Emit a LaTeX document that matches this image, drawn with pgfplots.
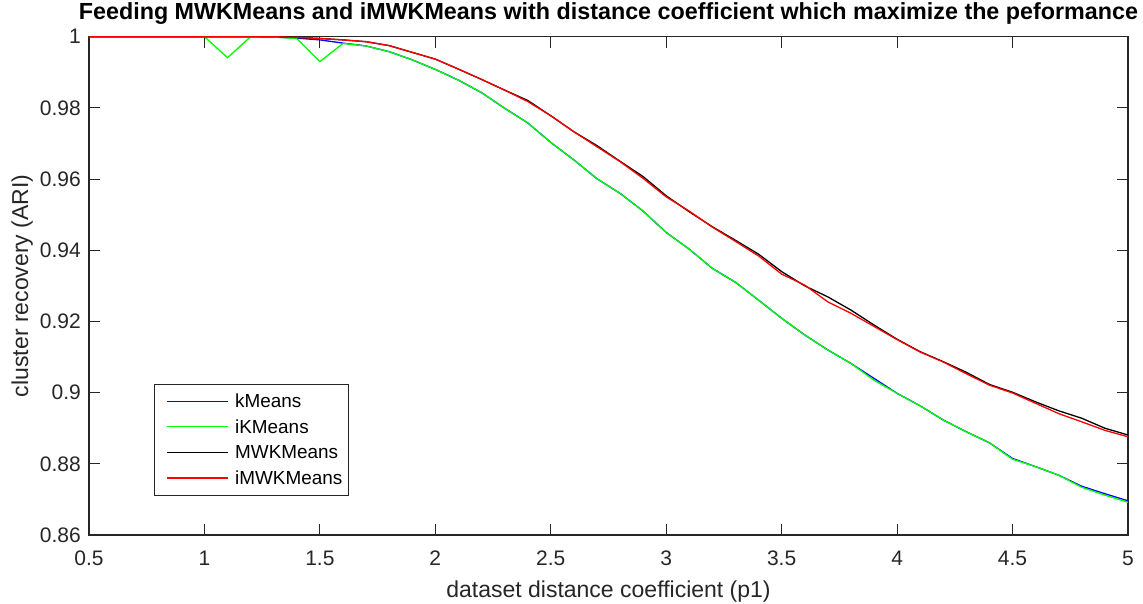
\documentclass[border=0pt]{standalone}
\usepackage{fontspec}
\setmainfont{Liberation Sans}
\usepackage{pgfplots}
\usepackage{pgfplotstable}
\pgfplotsset{compat=1.18}
\definecolor{axgray}{RGB}{38,38,38}
\definecolor{mblue}{RGB}{0,0,255}
\definecolor{mgreen}{RGB}{0,255,0}
\definecolor{mred}{RGB}{255,0,0}

\pgfplotstableread{
x   km      ikm     mwk     imwk
0.5 1.0000  1.0000  1.0000  1.0000
0.6 1.0000  1.0000  1.0000  1.0000
0.7 1.0000  1.0000  1.0000  1.0000
0.8 1.0000  1.0000  1.0000  1.0000
0.9 1.0000  1.0000  1.0000  1.0000
1.0 1.0000  1.0000  1.0000  1.0000
1.1 1.0000  0.9941  1.0000  1.0000
1.2 1.0000  1.0000  1.0000  1.0000
1.3 0.9999  0.9999  1.0000  1.0000
1.4 0.9996  0.9995  0.9998  0.9998
1.5 0.9991  0.9930  0.9995  0.9995
1.6 0.9982  0.9981  0.9991  0.9991
1.7 0.9974  0.9974  0.9986  0.9986
1.8 0.9958  0.9958  0.9975  0.9975
1.9 0.9935  0.9935  0.9956  0.9956
2.0 0.9908  0.9908  0.9937  0.9937
2.1 0.9878  0.9878  0.9909  0.9909
2.2 0.9843  0.9843  0.9880  0.9880
2.3 0.9799  0.9799  0.9850  0.9850
2.4 0.9758  0.9758  0.9821  0.9818
2.5 0.9703  0.9703  0.9778  0.9778
2.6 0.9654  0.9654  0.9733  0.9733
2.7 0.9601  0.9601  0.9694  0.9691
2.8 0.9560  0.9560  0.9650  0.9649
2.9 0.9510  0.9510  0.9607  0.9602
3.0 0.9450  0.9450  0.9553  0.9550
3.1 0.9403  0.9403  0.9508  0.9510
3.2 0.9349  0.9349  0.9466  0.9465
3.3 0.9310  0.9310  0.9428  0.9425
3.4 0.9260  0.9260  0.9389  0.9384
3.5 0.9209  0.9209  0.9340  0.9333
3.6 0.9162  0.9162  0.9300  0.9302
3.7 0.9120  0.9120  0.9269  0.9255
3.8 0.9082  0.9082  0.9232  0.9223
3.9 0.9040  0.9035  0.9190  0.9186
4.0 0.8998  0.8998  0.9150  0.9149
4.1 0.8963  0.8963  0.9115  0.9114
4.2 0.8923  0.8923  0.9087  0.9086
4.3 0.8890  0.8890  0.9057  0.9053
4.4 0.8859  0.8859  0.9023  0.9021
4.5 0.8815  0.8813  0.9001  0.8999
4.6 0.8792  0.8792  0.8974  0.8970
4.7 0.8768  0.8768  0.8949  0.8941
4.8 0.8737  0.8734  0.8928  0.8918
4.9 0.8716  0.8712  0.8900  0.8894
5.0 0.8696  0.8692  0.8881  0.8876
}\datatable

\begin{document}
\begin{tikzpicture}
\path[use as bounding box] (-89pt,-68pt) rectangle (1054pt,535pt);
\begin{axis}[
  at={(0pt,0pt)}, anchor=south west,
  scale only axis, width=1039pt, height=498.3pt,
  xmin=0.5, xmax=5, ymin=0.86, ymax=1,
  xtick={0.5,1,1.5,2,2.5,3,3.5,4,4.5,5},
  ytick={0.86,0.88,0.9,0.92,0.94,0.96,0.98,1},
  tick align=inside, xtick pos=both, ytick pos=both,
  major tick length=11pt,
  axis line style={axgray, line width=1.1pt},
  every tick/.style={axgray, line width=1.1pt},
  /pgf/number format/assume math mode=true,
  ticklabel style={font=\fontsize{21}{25}\selectfont, text=axgray},
  xticklabel style={anchor=base, yshift=-30.5pt},
  yticklabel style={anchor=east, inner sep=0pt, xshift=-8pt, /pgf/number format/fixed, /pgf/number format/precision=2},
  title={Feeding MWKMeans and iMWKMeans with distance coefficient which maximize the peformance},
  title style={at={(axis description cs:0.5,1)}, anchor=base, yshift=10.7pt, font=\fontsize{23.3}{27}\selectfont\bfseries},
  xlabel={dataset distance coefficient (p1)},
  xlabel style={at={(axis description cs:0.5,0)}, anchor=base, yshift=-62.7pt, font=\fontsize{23}{27}\selectfont, text=axgray},
  ylabel={cluster recovery (ARI)},
  ylabel style={at={(axis description cs:-0.0587,0.5)}, anchor=base, font=\fontsize{23}{27}\selectfont, text=axgray},
  legend style={at={(axis description cs:0.0623,0.3024)}, anchor=north west, draw=axgray, fill=none,
    font=\fontsize{18.9}{22}\selectfont, inner xsep=6.4pt, inner ysep=10.2pt, row sep=12.6pt, column sep=6.3pt,
    nodes={inner sep=0pt, text height=13pt, text depth=0pt}},
  legend cell align=left,
  legend image code/.code={\path[draw=none] (0pt,0pt) -- (1pt,0pt); \draw[#1] (6.9pt,0pt) -- (67.9pt,0pt);},
]
\addplot[color=mblue, line width=1.3pt] table[x=x, y=km] {\datatable};
\addlegendentry{kMeans}
\addplot[color=mgreen, line width=1.3pt] table[x=x, y=ikm] {\datatable};
\addlegendentry{iKMeans}
\addplot[color=black, line width=1.3pt] table[x=x, y=mwk] {\datatable};
\addlegendentry{MWKMeans}
\addplot[color=mred, line width=1.3pt] table[x=x, y=imwk] {\datatable};
\addlegendentry{iMWKMeans}
\end{axis}
\end{tikzpicture}
\end{document}
